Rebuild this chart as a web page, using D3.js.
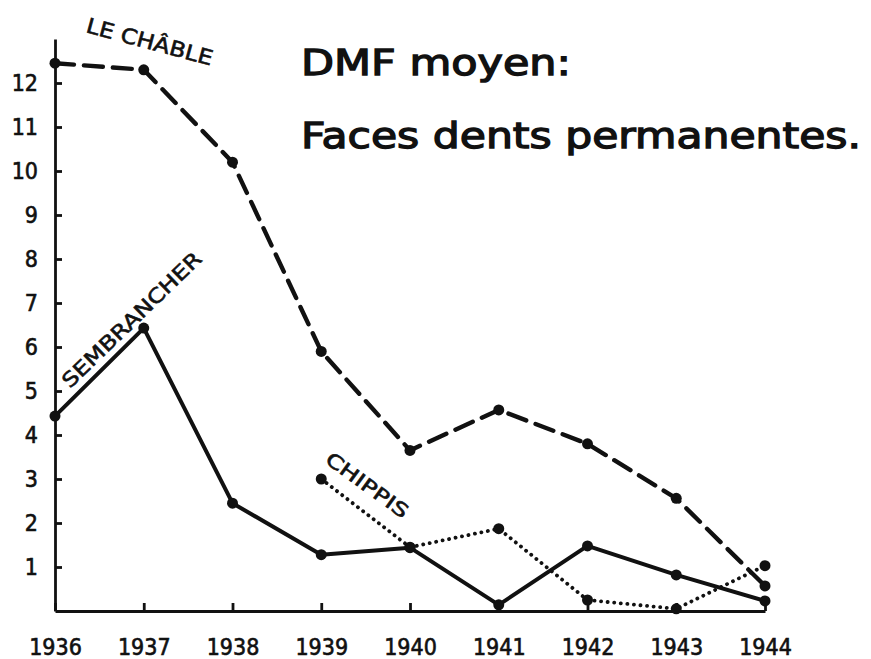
<!DOCTYPE html>
<html>
<head>
<meta charset="utf-8">
<script src="https://cdn.jsdelivr.net/npm/d3@7"></script>
<style>
	body { margin: 0; background: #fff; }
	svg text { fill: #111; stroke: #111; stroke-width: 0.6; }
	.axis path, .axis line { stroke: #111; stroke-width: 2.8; }
	.axis text { font-family: 'DejaVu Sans Condensed', 'DejaVu Sans', sans-serif; font-size: 23px; fill: #111; stroke: #111; stroke-width: 0.6; }
</style>
</head>
<body>
<svg></svg>
<script>
var years = [1936, 1937, 1938, 1939, 1940, 1941, 1942, 1943, 1944];
var leChable = [12.45, 12.3, 10.2, 5.9, 3.65, 4.57, 3.8, 2.56, 0.57];
var sembrancher = [4.43, 6.43, 2.45, 1.28, 1.44, 0.14, 1.48, 0.82, 0.23];
var chippisYears = [1939, 1940, 1941, 1942, 1943, 1944];
var chippis = [3.0, 1.45, 1.87, 0.25, 0.05, 1.03];
var yTicks = [1, 2, 3, 4, 5, 6, 7, 8, 9, 10, 11, 12];
var titleLines = ['DMF moyen:', 'Faces dents permanentes.'];

function render() {
	var W = 871;
	var H = 659;
	var margins = {T: 39, B: 48, L: 55, R: 106};

	var svg = d3.select('svg')
			.attr('width', W)
			.attr('height', H);

	var x = d3.scaleLinear()
					.domain([1936, 1944])
					.range([margins.L, W - margins.R]);
	var y = d3.scaleLinear()
					.domain([0, 13])
					.range([H - margins.B, margins.T]);

	var xAxis = d3.axisBottom(x)
							.tickValues(years)
							.tickFormat(d3.format('d'))
							.tickSizeInner(-8)
							.tickSizeOuter(0)
							.tickPadding(28);

	var yAxis = d3.axisLeft(y)
							.tickValues(yTicks)
							.tickSizeInner(-7)
							.tickSizeOuter(0)
							.tickPadding(17);

	svg.append('g')
		.attr('class', 'axis x-axis')
		.attr('transform', 'translate(0,' + y(0) + ')')
		.call(xAxis);

	svg.append('g')
		.attr('class', 'axis y-axis')
		.attr('transform', 'translate(' + x(1936) + ',0)')
		.call(yAxis);

	var line = d3.line()
							.x(function(d) { return x(d[0]); })
							.y(function(d) { return y(d[1]); });

	var series = [
		{name: 'chable', pts: d3.zip(years, leChable), dash: '19,10', width: 4.4},
		{name: 'sembrancher', pts: d3.zip(years, sembrancher), dash: null, width: 4},
		{name: 'chippis', pts: d3.zip(chippisYears, chippis), dash: '0.1,6.5', width: 3.8}
	];

	series.forEach(function(s) {
		svg.append('path')
			.attr('class', s.name)
			.attr('d', line(s.pts))
			.attr('fill', 'none')
			.attr('stroke', '#111')
			.attr('stroke-width', s.width)
			.attr('stroke-linecap', 'round')
			.attr('stroke-linejoin', 'round')
			.attr('stroke-dasharray', s.dash);

		svg.append('g')
			.selectAll('circle')
			.data(s.pts)
			.enter().append('circle')
				.attr('cx', function(d) { return x(d[0]); })
				.attr('cy', function(d) { return y(d[1]); })
				.attr('r', 5.5)
				.attr('fill', '#111');
	});

	// titre
	svg.append('g')
		.selectAll('text')
		.data(titleLines)
		.enter().append('text')
			.attr('x', 301)
			.attr('y', function(d, i) { return 75 + i * 73; })
			.attr('textLength', function(d, i) { return i ? 560 : 270; })
			.attr('lengthAdjust', 'spacingAndGlyphs')
			.style('font-family', "'DejaVu Sans', sans-serif")
			.style('font-size', '35px')
			.style('stroke-width', 1.3)
			.text(function(d) { return d; });

	// noms des stations, écrits le long des courbes
	var labels = [
		{text: 'LE CHÂBLE', x: 85, y: 32, rot: 15, len: 130, size: 21},
		{text: 'SEMBRANCHER', x: 70, y: 389, rot: -44, len: 185, size: 20},
		{text: 'CHIPPIS', x: 324, y: 462, rot: 36, len: 97, size: 19}
	];

	svg.append('g')
		.selectAll('text')
		.data(labels)
		.enter().append('text')
			.attr('transform', function(d) { return 'translate(' + d.x + ',' + d.y + ') rotate(' + d.rot + ')'; })
			.attr('textLength', function(d) { return d.len; })
			.attr('lengthAdjust', 'spacingAndGlyphs')
			.style('font-family', "'DejaVu Sans', sans-serif")
			.style('font-size', function(d) { return d.size + 'px'; })
			.text(function(d) { return d.text; });
}

render();
</script>
</body>
</html>
